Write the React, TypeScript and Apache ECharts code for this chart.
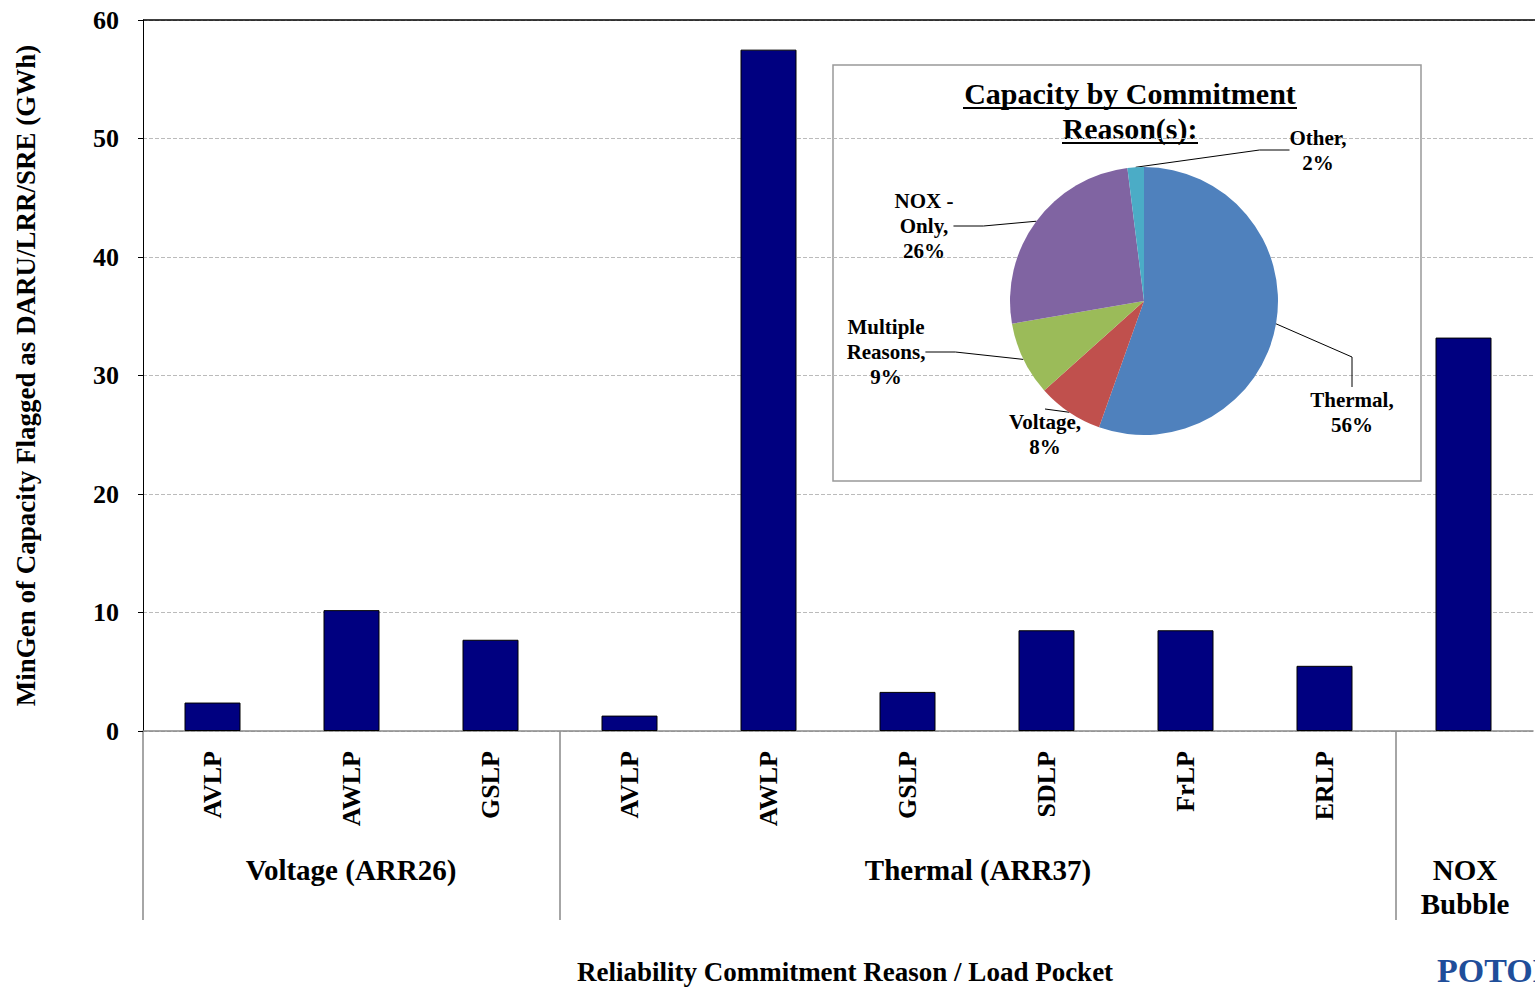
import { useEffect, useRef } from "react";
import * as echarts from "echarts";

const pockets = ["AVLP", "AWLP", "GSLP", "AVLP", "AWLP", "GSLP", "SDLP", "FrLP", "ERLP", ""];
const mingenGWh = [2.4, 10.2, 7.7, 1.3, 57.5, 3.3, 8.5, 8.5, 5.5, 33.2];
const reasonNames = ["Thermal", "Voltage", "Multiple\nReasons", "NOX -\nOnly", "Other"];
const reasonShares = [56, 8, 9, 26, 2];
const reasonColors = ["#4F81BD", "#C0504D", "#9BBB59", "#8064A2", "#4BACC6"];
// label anchor spots inside the inset box
const reasonLabelSpots = [
  [1352, 412],
  [1045, 434],
  [886, 352],
  [924, 226],
  [1318, 150],
];

const serif = "'Liberation Serif', 'Times New Roman', serif";

export default function App() {
  const ref = useRef<HTMLDivElement | null>(null);

  useEffect(() => {
    if (!ref.current) return undefined;
    const chart = echarts.init(ref.current, undefined, { renderer: "svg" });
    const bold = { fontFamily: serif, fontWeight: "bold" as const, color: "#000" };
    const txt = (text: string, x: number, y: number, size: number, lh?: number) => ({
      type: "text",
      x,
      y,
      style: {
        text,
        fill: "#000",
        fontFamily: serif,
        fontWeight: "bold",
        fontSize: size,
        lineHeight: lh ?? size + 4,
        align: "center",
        verticalAlign: "middle",
      },
    });

    chart.setOption({
      animation: false,
      grid: { left: 143, right: 2, top: 20, bottom: 257 },
      xAxis: {
        type: "category",
        data: pockets,
        axisLine: { lineStyle: { color: "#888", width: 1.5 } },
        axisTick: { show: false },
        axisLabel: { ...bold, rotate: 90, fontSize: 26, margin: 20, interval: 0 },
      },
      yAxis: {
        type: "value",
        min: 0,
        max: 60,
        interval: 10,
        name: "MinGen of Capacity Flagged as DARU/LRR/SRE (GWh)",
        nameLocation: "middle",
        nameGap: 104,
        nameTextStyle: { ...bold, fontSize: 27 },
        axisLine: { show: true, lineStyle: { color: "#000" } },
        axisTick: { show: true, length: 5, lineStyle: { color: "#000" } },
        axisLabel: { ...bold, fontSize: 26, margin: 24 },
        splitLine: { lineStyle: { color: "#bbb", type: "dashed" } },
      },
      series: [
        {
          type: "bar",
          data: mingenGWh,
          barWidth: 56,
          itemStyle: { color: "#000080", borderColor: "#000", borderWidth: 1 },
        },
        {
          type: "pie",
          center: [1144, 301],
          radius: 134,
          startAngle: 90,
          data: reasonNames.map((n, i) => ({
            name: n,
            value: reasonShares[i],
            itemStyle: { color: reasonColors[i] },
          })),
          label: {
            formatter: "{b},\n{c}%",
            ...bold,
            fontSize: 21,
            lineHeight: 25,
            align: "center",
          },
          labelLine: { length: 20, length2: 30, lineStyle: { color: "#000", width: 1 } },
          labelLayout: (p: { dataIndex: number }) => {
            const s = reasonLabelSpots[p.dataIndex];
            return { x: s[0], y: s[1], align: "center", verticalAlign: "middle" };
          },
        },
      ],
      graphic: [
        { type: "line", shape: { x1: 143, y1: 20, x2: 1535, y2: 20 }, style: { stroke: "#000", lineWidth: 1.5 }, z: 10 },
        { type: "line", shape: { x1: 143, y1: 731, x2: 143, y2: 920 }, style: { stroke: "#888", lineWidth: 1.5 } },
        { type: "line", shape: { x1: 560, y1: 731, x2: 560, y2: 920 }, style: { stroke: "#888", lineWidth: 1.5 } },
        { type: "line", shape: { x1: 1396, y1: 731, x2: 1396, y2: 920 }, style: { stroke: "#888", lineWidth: 1.5 } },
        txt("Voltage (ARR26)", 351, 870, 29),
        txt("Thermal (ARR37)", 978, 870, 29),
        txt("NOX\nBubble", 1465, 887, 29, 34),
        txt("Reliability Commitment Reason / Load Pocket", 845, 972, 27),
        { type: "rect", shape: { x: 833, y: 65, width: 588, height: 416 }, style: { fill: "#fff", stroke: "#999", lineWidth: 1.5 }, z: -1 },
        txt("Capacity by Commitment\nReason(s):", 1130, 111, 30, 35),
        { type: "line", shape: { x1: 963, y1: 108, x2: 1297, y2: 108 }, style: { stroke: "#000", lineWidth: 2 } },
        { type: "line", shape: { x1: 1062, y1: 143, x2: 1198, y2: 143 }, style: { stroke: "#000", lineWidth: 2 } },
        {
          type: "text",
          x: 1437,
          y: 970,
          style: { text: "POTOMAC", fill: "#1F4E9A", fontFamily: serif, fontWeight: "bold", fontSize: 34, verticalAlign: "middle" },
        },
      ],
    });
    return () => chart.dispose();
  }, []);

  return <div ref={ref} style={{ position: "fixed", left: 0, top: 0, width: 1535, height: 988, background: "#fff" }} />;
}
